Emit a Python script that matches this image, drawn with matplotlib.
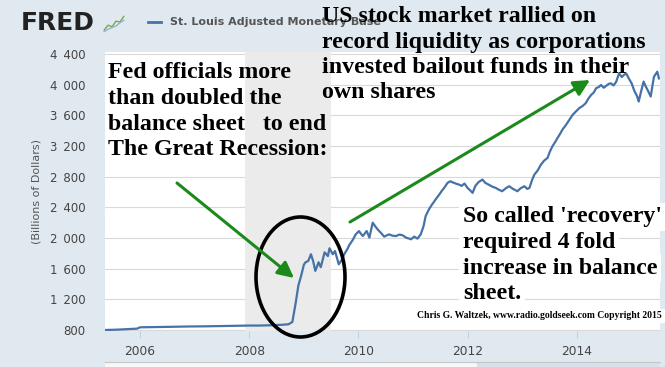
import matplotlib
matplotlib.use("Agg")
import matplotlib.pyplot as plt
from matplotlib.patches import Ellipse, Rectangle
from matplotlib.lines import Line2D

# St. Louis Adjusted Monetary Base, billions of dollars
years = [2005.36, 2005.6, 2005.8, 2005.95, 2006.0, 2006.3, 2006.6, 2006.9,
         2007.2, 2007.5, 2007.8, 2008.0, 2008.2, 2008.4, 2008.6, 2008.72,
         2008.79, 2008.85, 2008.9, 2008.95, 2009.0, 2009.03, 2009.08, 2009.13,
         2009.17, 2009.21, 2009.27, 2009.31, 2009.38, 2009.44, 2009.47, 2009.53,
         2009.57, 2009.64, 2009.7, 2009.74, 2009.8, 2009.83, 2009.9, 2009.95,
         2010.01, 2010.05, 2010.08, 2010.15, 2010.2, 2010.26, 2010.31, 2010.35,
         2010.42, 2010.47, 2010.56, 2010.62, 2010.69, 2010.75, 2010.81, 2010.87,
         2010.93, 2010.96, 2011.02, 2011.08, 2011.14, 2011.19, 2011.23, 2011.29,
         2011.34, 2011.39, 2011.44, 2011.48, 2011.53, 2011.57, 2011.63, 2011.68,
         2011.72, 2011.78, 2011.84, 2011.89, 2011.94, 2012.0, 2012.03, 2012.09,
         2012.14, 2012.2, 2012.27, 2012.32, 2012.38, 2012.45, 2012.51, 2012.57,
         2012.63, 2012.7, 2012.76, 2012.83, 2012.91, 2012.97, 2013.04, 2013.09,
         2013.13, 2013.18, 2013.22, 2013.28, 2013.34, 2013.4, 2013.46, 2013.5,
         2013.55, 2013.6, 2013.64, 2013.68, 2013.74, 2013.8, 2013.86, 2013.92,
         2013.98, 2014.04, 2014.1, 2014.16, 2014.21, 2014.26, 2014.31, 2014.35,
         2014.4, 2014.44, 2014.49, 2014.53, 2014.58, 2014.62, 2014.67, 2014.72,
         2014.77, 2014.82, 2014.86, 2014.9, 2014.95, 2015.0, 2015.05, 2015.1,
         2015.13, 2015.17, 2015.22, 2015.26, 2015.3, 2015.35, 2015.38, 2015.41,
         2015.47, 2015.5]
base = [800, 805, 812, 818, 835, 838, 842, 846,
        848, 852, 855, 858, 858, 862, 868, 875,
        905, 1150, 1380, 1506, 1650, 1683, 1700, 1788,
        1700, 1571, 1683, 1619, 1813, 1765, 1866, 1788,
        1830, 1657, 1720, 1788, 1860, 1905, 1980, 2048,
        2090, 2050, 2026, 2091, 2005, 2200, 2150, 2113,
        2060, 2018, 2048, 2030, 2026, 2045, 2035, 2005,
        1992, 1983, 2018, 1992, 2048, 2150, 2286, 2373,
        2430, 2480, 2530, 2567, 2620, 2654, 2719, 2740,
        2727, 2710, 2697, 2680, 2710, 2650, 2632, 2589,
        2680, 2730, 2762, 2720, 2697, 2670, 2654, 2630,
        2610, 2650, 2675, 2640, 2610, 2650, 2675, 2640,
        2654, 2760, 2827, 2880, 2957, 3010, 3043, 3120,
        3195, 3250, 3300, 3346, 3420, 3476, 3540, 3606,
        3650, 3693, 3720, 3758, 3820, 3866, 3900, 3953,
        3970, 3996, 3960, 3983, 4010, 4018, 3990, 4040,
        4147, 4100, 4126, 4147, 4080, 4018, 3920, 3850,
        3780, 3900, 4040, 3975, 3920, 3845, 3980, 4104,
        4169, 4082]

recession = (2007.92, 2009.5)
x_ticks = [2006, 2008, 2010, 2012, 2014]
y_ticks = [800, 1200, 1600, 2000, 2400, 2800, 3200, 3600, 4000, 4400]

title_text = "St. Louis Adjusted Monetary Base"
stock_lines = ["US stock market rallied on",
               "record liquidity as corporations",
               "invested bailout funds in their",
               "own shares"]
fed_lines = ["Fed officials more",
             "than doubled the",
             "balance sheet   to end",
             "The Great Recession:"]
recovery_lines = ["So called 'recovery'",
                  "required 4 fold",
                  "increase in balance",
                  "sheet."]
credit = "Chris G. Waltzek, www.radio.goldseek.com Copyright 2015"

W, H = 665, 367
bg = "#e1e9f0"
blue = "#4572a7"
green = "#1b8a1b"


def fx(x):
    return x / W


def fy(y):
    return 1 - y / H


fig = plt.figure(figsize=(W / 100, H / 100), dpi=100, facecolor=bg)
ax = fig.add_axes([fx(105), fy(331), fx(660) - fx(105), fy(52) - fy(331)])
ax.set_facecolor("white")

ax.plot(years, base, color=blue, lw=1.6, zorder=2)
ax.axvspan(recession[0], recession[1], color="#ebebeb", lw=0, zorder=1.5)

ax.set_xlim(2005.36, 2015.52)
ax.set_ylim(787, 4426)
ax.set_xticks(x_ticks)
ax.set_xticklabels([str(t) for t in x_ticks])
ax.set_yticks(y_ticks)
ax.set_yticklabels([f"{t // 1000}\u2002{t % 1000:03d}" if t >= 1000 else str(t) for t in y_ticks])
ax.set_axisbelow(True)
ax.grid(axis="y", color="#d9d9d9", lw=0.8)
ax.tick_params(axis="y", length=0, pad=14, labelsize=8.5, labelcolor="#444444")
ax.tick_params(axis="x", length=5, width=0.8, color="#c0d0e0", pad=5,
               labelsize=8.8, labelcolor="#444444")
for s in ax.spines.values():
    s.set_visible(False)
ax.set_ylabel("(Billions of Dollars)", fontsize=8, color="#555555", labelpad=6)

# white patch behind the Fed text (pasted box), under the recession shading
ax.add_patch(Rectangle((fx(105), fy(162)), fx(248) - fx(105), fy(57) - fy(162),
                       transform=fig.transFigure, fc="white", ec="none", zorder=1))

serif = "Liberation Serif"
fs = 17.2
for i, line in enumerate(fed_lines):
    ax.text(fx(108), fy(73 + 25.5 * i), line, transform=fig.transFigure,
            fontsize=fs, family=serif, weight="bold", va="center", ha="left",
            zorder=3, clip_on=False)

for i, line in enumerate(recovery_lines):
    ax.text(fx(463), fy(217 + 25.5 * i), line, transform=fig.transFigure,
            fontsize=fs, family=serif, weight="bold", va="center", ha="left",
            zorder=3, bbox=dict(fc="white", ec="none", pad=2.5))

ax.text(fx(662), fy(316), credit, transform=fig.transFigure, fontsize=6.9,
        family=serif, weight="bold", ha="right", va="center", zorder=3,
        bbox=dict(fc="white", ec="none", pad=2))

# ellipse and arrows
ax.add_patch(Ellipse((fx(300.5), fy(277)), fx(89), 120 / H, transform=fig.transFigure,
                     fc="none", ec="black", lw=2.6, zorder=4, clip_on=False))
arrow = dict(arrowstyle="-|>", color=green, lw=2.2, mutation_scale=24, shrinkA=0, shrinkB=0)
ax.annotate("", xy=(fx(294), fy(278)), xytext=(fx(177), fy(183)),
            xycoords="figure fraction", textcoords="figure fraction",
            arrowprops=arrow, zorder=5)
ax.annotate("", xy=(fx(590), fy(80)), xytext=(fx(350), fy(222)),
            xycoords="figure fraction", textcoords="figure fraction",
            arrowprops=arrow, zorder=5)

# FRED header
fig.text(fx(21), fy(23), "FRED", fontsize=18, weight="heavy", color="#222222",
         va="center", ha="left")
icon = fig.add_axes([fx(103), fy(34), fx(22), 20 / H])
icon.set_facecolor("#e4e8e0")
icon_x = [0, 1, 2, 3, 4, 5]
icon_a = [1, 2.2, 1.8, 3.2, 3.0, 4.4]
icon_b = [0.6, 1.2, 1.6, 2.0, 2.8, 3.4]
icon.plot(icon_x, icon_a, color="#7aa850", lw=1)
icon.plot(icon_x, icon_b, color="#9ab0c8", lw=1)
icon.set_xlim(-0.3, 5.3)
icon.set_ylim(0, 5)
icon.axis("off")
fig.add_artist(Line2D([fx(148), fx(161)], [fy(22), fy(22)], color=blue, lw=2,
                      transform=fig.transFigure))
fig.text(fx(170), fy(22), title_text, fontsize=8, weight="bold", color="#555555",
         va="center", ha="left")

for i, line in enumerate(stock_lines):
    fig.text(fx(322), fy(17 + 25.3 * i), line, fontsize=fs, family=serif,
             weight="bold", va="center", ha="left", zorder=6)

# navigator strip at the bottom
nav = fig.add_axes([fx(105), 0, fx(660) - fx(105), 5 / H])
nav.set_facecolor("#f5f7f9")
nav.axvspan(0.67, 1.0, color="#d6e1ec", lw=0)
nav.set_xlim(0, 1)
nav.set_xticks([])
nav.set_yticks([])
for k, s in nav.spines.items():
    s.set_visible(k == "top")
nav.spines["top"].set_color("#c6c6c6")

fig.savefig("out.png", dpi=100, facecolor=bg)
